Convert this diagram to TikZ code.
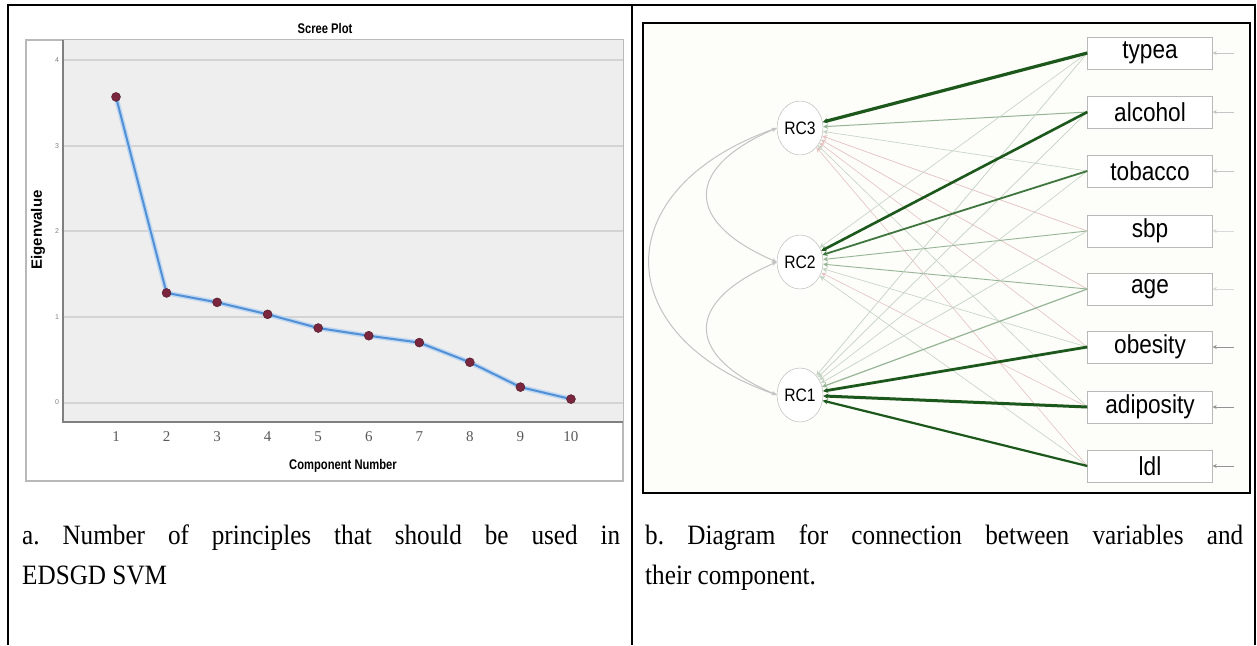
\documentclass[tikz,border=0pt]{standalone}
\usepackage{fontspec}
\usepackage{tikz}
\usetikzlibrary{shapes.geometric,arrows.meta}
\setmainfont{Liberation Serif}
\newfontfamily\capfont[FakeStretch=0.9]{Liberation Serif}
\newfontfamily\semfont[FakeStretch=0.87]{Liberation Sans}
\newfontfamily\spssfont[FakeStretch=0.8]{Liberation Sans}
\newfontfamily\axisfont{Liberation Sans}
\definecolor{gridgray}{RGB}{212,212,212}
\definecolor{plotbg}{RGB}{238,238,238}
\definecolor{lineblue}{RGB}{80,144,214}
\definecolor{dotred}{RGB}{122,38,62}
\definecolor{loaddark}{RGB}{28,88,28}
\definecolor{loadmid}{RGB}{62,118,62}
\definecolor{loadsoft}{RGB}{150,180,150}
\definecolor{loadlight}{RGB}{196,210,196}
\definecolor{loadneg}{RGB}{228,194,194}
\definecolor{covgray}{RGB}{195,195,195}
\definecolor{cream}{RGB}{253,253,249}
\frenchspacing

\begin{document}
\begin{tikzpicture}[x=1pt,y=-1pt,
    var/.style={draw=gray!55,fill=white,minimum width=125pt,minimum height=32pt,inner sep=0pt,font=\semfont\fontsize{26}{26}\selectfont},
    comp/.style={ellipse,draw=gray!60,fill=white,minimum width=46pt,minimum height=54pt,inner sep=0pt,font=\semfont\fontsize{18}{18}\selectfont},
    load/.style={-{Stealth[length=5pt,width=5pt]}},
    cov/.style={{Stealth[length=5pt,width=4pt]}-{Stealth[length=5pt,width=4pt]},covgray,line width=1pt},
    resid/.style={-{Stealth[length=4pt,width=4pt]},line width=1pt},
    caption/.style={text width=598pt,align=justify,inner sep=0pt,font=\capfont\fontsize{28}{40}\selectfont}]
  \useasboundingbox (0,0) rectangle (1257,645);
  % table rules
  \draw[line width=1.5pt] (8,645) -- (8,5) -- (1255,5) -- (1255,645);
  \draw[line width=1.5pt] (632,5) -- (632,645);

  % scree plot
  \draw[gray!55,line width=1.2pt,fill=white] (26,40) rectangle (623,481);
  \fill[plotbg] (63,40) rectangle (623,422);
  \foreach \v in {0,...,4} {
    \draw[gridgray,line width=2pt] (63,{402.5-85.6*\v}) -- (623,{402.5-85.6*\v});
    \node[font=\axisfont\fontsize{7}{7}\selectfont,gray] (ytick\v) at (57,{402.5-85.6*\v}) {\v};
  }
  \draw[gray,line width=1.2pt] (63,40) -- (63,422) -- (623,422);
  \foreach \k/\v in {1/3.57,2/1.28,3/1.17,4/1.03,5/0.87,6/0.78,7/0.70,8/0.47,9/0.18,10/0.04} {
    \coordinate (p\k) at ({116+50.55*(\k-1)},{402.5-85.6*\v});
    \node[font=\fontsize{15}{15}\selectfont,gray!70!black] (xtick\k) at ({116+50.55*(\k-1)},437) {\k};
  }
  \draw[lineblue!35,line width=5pt,line join=round] (p1) \foreach \k in {2,...,10} {-- (p\k)};
  \draw[lineblue,line width=2pt,line join=round] (p1) \foreach \k in {2,...,10} {-- (p\k)};
  \foreach \k in {1,...,10} \filldraw[dotred,draw=dotred!60!black] (p\k) circle (4.5pt);
  \node[font=\spssfont\bfseries\fontsize{14}{14}\selectfont] (title) at (325,28) {Scree Plot};
  \node[font=\spssfont\bfseries\fontsize{14}{14}\selectfont] (xlabel) at (343,466) {Component Number};
  \node[font=\axisfont\bfseries\fontsize{15}{15}\selectfont,rotate=90] (ylabel) at (38,230) {Eigenvalue};

  % path diagram
  \draw[line width=2pt,fill=cream] (643,23) rectangle (1250,493);
  \foreach \n/\y in {typea/53,alcohol/112,tobacco/171,sbp/231,age/289,obesity/347,adiposity/407,ldl/466}
    \node[var] (\n) at (1150,\y) {\n};
  \node[comp] (RC3) at (800,128) {RC3};
  \node[comp] (RC2) at (800,262) {RC2};
  \node[comp] (RC1) at (800,395) {RC1};

  \foreach \f/\v/\w/\c in {RC3/alcohol/1/loadsoft,RC3/tobacco/0.6/loadlight,RC3/sbp/0.7/loadneg,RC3/age/0.7/loadneg,
      RC3/obesity/0.6/loadneg,RC3/adiposity/0.6/loadlight,RC3/ldl/0.6/loadneg,
      RC2/typea/0.6/loadlight,RC2/sbp/0.9/loadsoft,RC2/age/0.9/loadsoft,RC2/obesity/0.6/loadlight,
      RC2/adiposity/0.6/loadneg,RC2/ldl/0.6/loadlight,
      RC1/typea/0.7/loadlight,RC1/alcohol/0.7/loadlight,RC1/tobacco/0.6/loadlight,RC1/sbp/0.7/loadlight,RC1/age/1.2/loadsoft}
    \draw[load,\c,line width=\w pt] (\v.west) -- (\f);
  \foreach \f/\v/\w/\c in {RC2/tobacco/1.8/loadmid,RC2/alcohol/2.6/loaddark,RC3/typea/3.2/loaddark,
      RC1/ldl/2.2/loaddark,RC1/obesity/2.8/loaddark,RC1/adiposity/3/loaddark}
    \draw[load,\c,line width=\w pt] (\v.west) -- (\f);

  \draw[cov] (RC3.west) .. controls +(-93,40) and +(-93,-40) .. (RC2.west);
  \draw[cov] (RC2.west) .. controls +(-93,40) and +(-93,-40) .. (RC1.west);
  \draw[cov] (RC3.west) .. controls +(-170,60) and +(-170,-60) .. (RC1.west);

  \foreach \n/\c in {typea/gray!45,alcohol/gray!45,tobacco/gray!45,sbp/gray!30,age/gray!30,obesity/gray!85,adiposity/gray!85,ldl/gray!85} {
    \coordinate (e\n) at ([xshift=21pt]\n.east);
    \draw[resid,\c] (e\n) -- (\n.east);
  }

  % captions
  \node[caption,anchor=north west] (capa) at (22,525) {a. Number of principles that should be used in\linebreak EDSGD SVM};
  \node[caption,anchor=north west] (capb) at (645,525) {b. Diagram for connection between variables and\linebreak their component.};
\end{tikzpicture}
\end{document}
